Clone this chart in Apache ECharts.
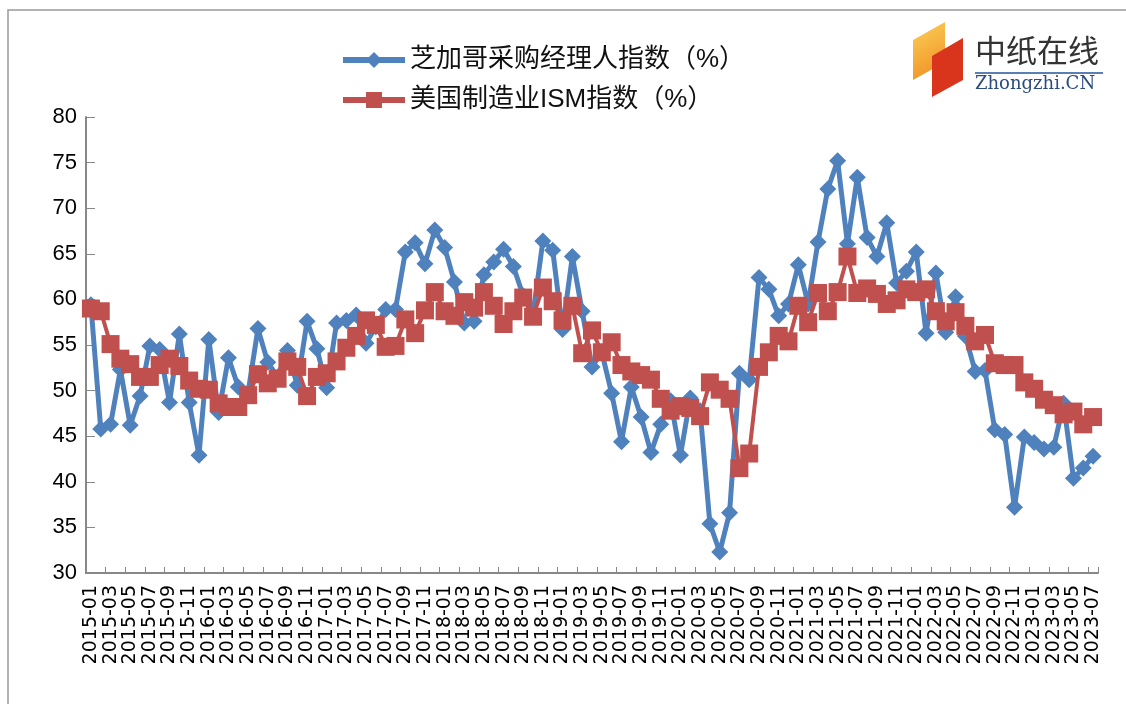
<!DOCTYPE html>
<html>
<head>
<meta charset="utf-8">
<script src="https://cdn.jsdelivr.net/npm/echarts@6/dist/echarts.min.js"></script>
<style>
  html, body { margin: 0; padding: 0; background: #fff; }
  #main { width: 1126px; height: 704px; }
</style>
</head>
<body>
<div id="main"></div>
<script>
// monthly categories 2015-01 .. 2023-07
var months = [];
for (var y = 2015; y <= 2023; y++) {
    for (var m = 1; m <= 12; m++) {
        if (y === 2023 && m > 7) break;
        months.push(y + '-' + (m < 10 ? '0' + m : m));
    }
}

var chicagoName = '芝加哥采购经理人指数（%）';
var ismName = '美国制造业ISM指数（%）';

var chicago2015 = [59.4, 45.8, 46.3, 52.3, 46.2, 49.4, 54.9, 54.5, 48.7, 56.2, 48.7, 42.9];
var chicago2016 = [55.6, 47.6, 53.6, 50.4, 49.8, 56.8, 53.1, 51.5, 54.4, 50.6, 57.6, 54.6];
var chicago2017 = [50.3, 57.4, 57.7, 58.3, 55.2, 57.0, 58.9, 58.9, 65.2, 66.2, 63.9, 67.6];
var chicago2018 = [65.7, 61.9, 57.4, 57.6, 62.7, 64.1, 65.5, 63.6, 60.4, 58.4, 66.4, 65.4];
var chicago2019 = [56.7, 64.7, 58.7, 52.6, 54.2, 49.7, 44.4, 50.4, 47.1, 43.2, 46.3, 48.9];
var chicago2020 = [42.9, 49.2, 47.8, 35.4, 32.3, 36.6, 51.9, 51.2, 62.4, 61.1, 58.2, 59.5];
var chicago2021 = [63.8, 59.5, 66.3, 72.1, 75.2, 66.1, 73.4, 66.8, 64.7, 68.4, 61.8, 63.1];
var chicago2022 = [65.2, 56.3, 62.9, 56.4, 60.3, 56.0, 52.1, 52.2, 45.7, 45.2, 37.2, 44.9];
var chicago2023 = [44.3, 43.6, 43.8, 48.6, 40.4, 41.5, 42.8];

var ism2015 = [59.0, 58.7, 55.1, 53.5, 52.9, 51.5, 51.5, 52.8, 53.5, 52.7, 51.1, 50.2];
var ism2016 = [50.1, 48.6, 48.2, 48.2, 49.5, 51.8, 50.8, 51.3, 53.2, 52.6, 49.4, 51.5];
var ism2017 = [51.9, 53.2, 54.7, 56.0, 57.7, 57.2, 54.8, 54.9, 57.8, 56.3, 58.8, 60.8];
var ism2018 = [58.7, 58.2, 59.7, 59.1, 60.8, 59.3, 57.3, 58.7, 60.2, 58.1, 61.3, 59.8];
var ism2019 = [57.7, 59.3, 54.1, 56.6, 54.2, 55.3, 52.8, 52.1, 51.7, 51.2, 49.1, 47.8];
var ism2020 = [48.3, 48.1, 47.2, 50.9, 50.1, 49.1, 41.5, 43.1, 52.6, 54.2, 56.0, 55.4];
var ism2021 = [59.3, 57.5, 60.7, 58.7, 60.8, 64.7, 60.7, 61.2, 60.6, 59.5, 59.9, 61.1];
var ism2022 = [60.8, 61.1, 58.7, 57.6, 58.6, 57.1, 55.4, 56.1, 53.0, 52.8, 52.8, 50.9];
var ism2023 = [50.2, 49.0, 48.4, 47.4, 47.7, 46.3, 47.1];

var yTicks = [30, 35, 40, 45, 50, 55, 60, 65, 70, 75, 80];

var chicagoData = [].concat(chicago2015, chicago2016, chicago2017, chicago2018, chicago2019,
    chicago2020, chicago2021, chicago2022, chicago2023);
var ismData = [].concat(ism2015, ism2016, ism2017, ism2018, ism2019,
    ism2020, ism2021, ism2022, ism2023);

var chart = echarts.init(document.getElementById('main'));

var option = {
    backgroundColor: '#fff',
    animation: false,
    textStyle: { fontFamily: 'Liberation Sans, Arial, Noto Sans CJK SC, sans-serif' },
    legend: {
        orient: 'vertical',
        left: 335,
        top: 42,
        itemGap: 14,
        itemWidth: 62,
        itemHeight: 20,
        lineStyle: { width: 6 },
        textStyle: { fontSize: 26, color: '#111', fontFamily: 'Liberation Sans, Noto Sans CJK SC, sans-serif' },
        data: [chicagoName, ismName]
    },
    grid: { left: 86, right: 28, top: 117, bottom: 131, containLabel: false },
    xAxis: {
        type: 'category',
        data: months,
        boundaryGap: true,
        axisLine: { lineStyle: { color: '#888', width: 2 } },
        axisTick: { show: true, inside: true, length: 6, interval: 1, lineStyle: { color: '#888' } },
        axisLabel: {
            interval: 1,
            rotate: 90,
            fontSize: 19,
            fontFamily: 'DejaVu Sans',
            color: '#000',
            margin: 12,
            showMinLabel: true,
            showMaxLabel: true
        },
        splitLine: { show: false }
    },
    yAxis: {
        type: 'value',
        min: yTicks[0],
        max: yTicks[yTicks.length - 1],
        interval: 5,
        axisLine: { show: true, lineStyle: { color: '#888', width: 2 } },
        axisTick: { show: true, inside: true, length: 9, lineStyle: { color: '#888' } },
        axisLabel: { fontSize: 22, color: '#000', margin: 9 },
        splitLine: { show: false }
    },
    series: [
        {
            name: chicagoName,
            type: 'line',
            data: chicagoData,
            symbol: 'diamond',
            symbolSize: 17,
            showAllSymbol: true,
            lineStyle: { color: '#4F81BD', width: 5 },
            itemStyle: { color: '#4F81BD' },
            z: 2
        },
        {
            name: ismName,
            type: 'line',
            data: ismData,
            symbol: 'rect',
            symbolSize: 18,
            showAllSymbol: true,
            lineStyle: { color: '#C0504D', width: 4 },
            itemStyle: { color: '#C0504D' },
            z: 3
        }
    ],
    graphic: [
        {
            type: 'rect',
            shape: { x: 8, y: 10, width: 1140, height: 720 },
            style: { fill: 'none', stroke: '#999', lineWidth: 1.5 },
            silent: true
        },
        {
            type: 'polygon',
            shape: { points: [[913, 40], [945, 22], [945, 62], [913, 80]] },
            style: {
                fill: new echarts.graphic.LinearGradient(0, 0, 1, 1, [
                    { offset: 0, color: '#FBD15A' },
                    { offset: 1, color: '#F08A1E' }
                ])
            }
        },
        {
            type: 'polygon',
            shape: { points: [[932, 56], [963, 38], [963, 80], [932, 97]] },
            style: { fill: '#D9341C' }
        },
        {
            type: 'text',
            left: 975,
            top: 35,
            style: { text: '中纸在线', fontSize: 31, fill: '#333', fontFamily: 'Noto Sans CJK SC' }
        },
        {
            type: 'line',
            shape: { x1: 975, y1: 73, x2: 1103, y2: 73 },
            style: { stroke: '#5A7FB5', lineWidth: 2 }
        },
        {
            type: 'text',
            left: 975,
            top: 75,
            style: { text: 'Zhongzhi.CN', fontSize: 18, fill: '#2B4C7E', fontFamily: 'DejaVu Serif' }
        }
    ]
};

chart.setOption(option);
</script>
</body>
</html>
